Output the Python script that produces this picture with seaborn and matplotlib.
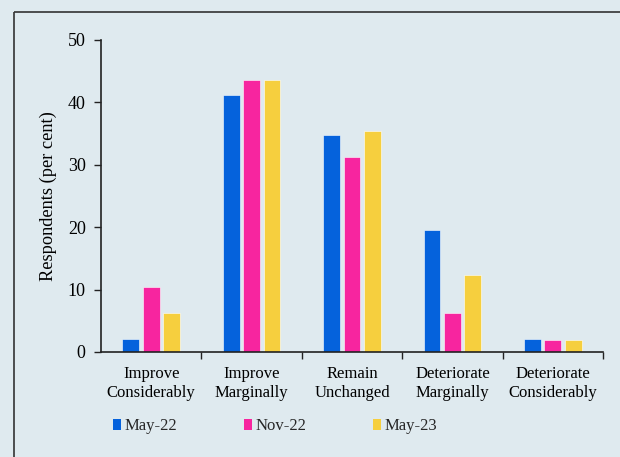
import matplotlib
matplotlib.use("Agg")
import matplotlib.pyplot as plt
import seaborn as sns
import pandas as pd
from matplotlib.patches import Patch
from matplotlib.lines import Line2D
from matplotlib import font_manager

categories = ["Improve\nConsiderably", "Improve\nMarginally", "Remain\nUnchanged",
              "Deteriorate\nMarginally", "Deteriorate\nConsiderably"]
series = ["May-22", "Nov-22", "May-23"]
may22 = [2.1, 41.2, 34.8, 19.5, 2.1]
nov22 = [10.4, 43.6, 31.2, 6.2, 2.0]
may23 = [6.2, 43.6, 35.4, 12.4, 1.9]
colors = ["#0562dc", "#f7259f", "#f6cf3e"]

rows = []
for s, vals in zip(series, [may22, nov22, may23]):
    for c, v in zip(categories, vals):
        rows.append({"cat": c, "series": s, "value": v})
df = pd.DataFrame(rows)

bg = "#dfeaef"
sns.set_theme(style="ticks")
names = sorted({f.name for f in font_manager.fontManager.ttflist})
serif = [n for n in ["Liberation Serif", "Times New Roman", "Nimbus Roman", "DejaVu Serif"] if n in names]
plt.rcParams["font.family"] = "serif"
plt.rcParams["font.serif"] = serif

fig = plt.figure(figsize=(6.2, 4.57), dpi=100, facecolor=bg)
ax = fig.add_axes([101/620, 1-352/457, 502/620, 312/457])
ax.set_facecolor(bg)

sns.barplot(data=df, x="cat", y="value", hue="series", order=categories,
            hue_order=series, palette=colors, saturation=1, width=0.61, gap=0.17,
            edgecolor="#ffffff", linewidth=0.4, legend=False, ax=ax)

ax.set_xlim(-0.5, 4.5)
ax.set_ylim(0, 50)
ax.set_yticks([0, 10, 20, 30, 40, 50])
ax.tick_params(axis="y", direction="out", length=5, width=1, colors="#222222",
               labelcolor="black", labelsize=13, pad=6)
ax.tick_params(axis="x", which="major", length=0, labelsize=12, pad=10, labelcolor="black")
for lbl in ax.get_xticklabels():
    lbl.set_linespacing(1.3)
ax.set_xticks([0.5, 1.5, 2.5, 3.5, 4.5], minor=True)
ax.tick_params(axis="x", which="minor", direction="out", length=5, width=1, colors="#222222")
ax.set_xlabel("")
ax.set_ylabel("Respondents (per cent)", fontsize=13.2, color="black", labelpad=8)
for sp in ["top", "right"]:
    ax.spines[sp].set_visible(False)
for sp in ["left", "bottom"]:
    ax.spines[sp].set_color("#222222")
    ax.spines[sp].set_linewidth(1.2)

handles = [Patch(facecolor=c, edgecolor="none", label=s) for c, s in zip(colors, series)]
fig.legend(handles=handles, loc="center left", bbox_to_anchor=(113/620, 1-426/457),
           ncol=3, frameon=False, fontsize=12, handlelength=0.5, handleheight=0.65,
           handletextpad=0.2, columnspacing=4.0, borderaxespad=0, borderpad=0)

# outer frame
fig.add_artist(Line2D([13.5/620, 13.5/620], [-0.01, 1-12/457], transform=fig.transFigure,
                      color="#333333", linewidth=1.2, solid_capstyle="butt"))
fig.add_artist(Line2D([13.5/620, 1.01], [1-12/457, 1-12/457], transform=fig.transFigure,
                      color="#333333", linewidth=1.2, solid_capstyle="butt"))

fig.savefig("out.png", dpi=100, facecolor=bg)
